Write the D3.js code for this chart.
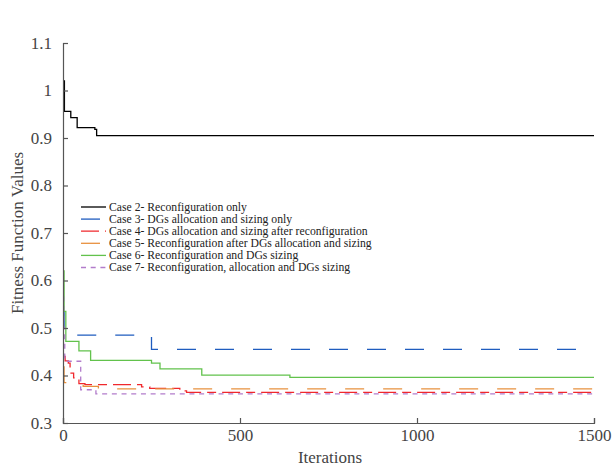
<!DOCTYPE html>
<html>
<head>
<meta charset="utf-8">
<script src="https://cdn.jsdelivr.net/npm/d3@7"></script>
<style>
  html, body { margin: 0; padding: 0; background: #fff; }
  svg { display: block; }
  text { font-family: "Liberation Serif", "DejaVu Serif", serif; }
</style>
</head>
<body>
<div id="chart"></div>
<script>
// Convergence histories: [iteration, fitness value] breakpoints (step-wise curves)
const case2 = [[0, 1.02], [4, 0.956], [22, 0.943], [40, 0.922], [90, 0.918], [95, 0.905], [1500, 0.905]];
const case3 = [[0, 0.535], [3, 0.50], [8, 0.485], [240, 0.485], [250, 0.455], [1500, 0.455]];
const case4 = [[0, 0.44], [6, 0.431], [15, 0.426], [20, 0.405], [30, 0.395], [45, 0.383], [62, 0.381], [222, 0.376], [245, 0.373], [330, 0.3675], [349, 0.3645], [1500, 0.3645]];
const case5 = [[0, 0.418], [3, 0.385], [57, 0.377], [100, 0.372], [1500, 0.372]];
const case6 = [[0, 0.62], [3, 0.535], [8, 0.472], [45, 0.452], [78, 0.432], [250, 0.426], [274, 0.414], [392, 0.401], [641, 0.396], [1500, 0.396]];
const case7 = [[0, 0.565], [2, 0.50], [5, 0.43], [50, 0.37], [93, 0.3615], [1500, 0.3605]];

const seriesNames = [
  "Case 2- Reconfiguration only",
  "Case 3- DGs allocation and sizing only",
  "Case 4- DGs allocation and sizing after reconfiguration",
  "Case 5- Reconfiguration after DGs allocation and sizing",
  "Case 6- Reconfiguration and DGs sizing",
  "Case 7- Reconfiguration, allocation and DGs sizing"
];
const seriesData = [case2, case3, case4, case5, case6, case7];
const seriesColors = ["#000000", "#1f5cbf", "#f0282d", "#e8913f", "#62c24c", "#b27ccb"];
const seriesDash = [null, "19,19", "18,6,9,6", "19,19", null, "5,4.7"];

const xTicks = [0, 500, 1000, 1500];
const yTicks = [0.3, 0.4, 0.5, 0.6, 0.7, 0.8, 0.9, 1.0, 1.1];

const width = 615, height = 468;
const svg = d3.select("#chart").append("svg")
  .attr("width", width).attr("height", height);

const x = d3.scaleLinear().domain([0, 1500]).range([63, 594]);
const y = d3.scaleLinear().domain([0.3, 1.1]).range([423, 43]);

const axisColor = "#555";
const textColor = "#444";

// Series curves
const line = d3.line()
  .x(d => x(d[0]))
  .y(d => y(d[1]))
  .curve(d3.curveStepAfter);

const plot = svg.append("g");
seriesData.forEach((data, i) => {
  plot.append("path")
    .datum(data)
    .attr("d", line)
    .attr("fill", "none")
    .attr("stroke", seriesColors[i])
    .attr("stroke-width", 1.3)
    .attr("stroke-dasharray", seriesDash[i]);
});

// Axes with inward ticks
const fmt = v => d3.format("~g")(+v.toFixed(2));
const xAxis = svg.append("g")
  .attr("transform", `translate(0,${y(0.3)})`)
  .call(d3.axisBottom(x).tickValues(xTicks).tickSize(-5).tickPadding(9).tickFormat(d3.format("d")));
const yAxis = svg.append("g")
  .attr("transform", `translate(${x(0)},0)`)
  .call(d3.axisLeft(y).tickValues(yTicks).tickSize(-5).tickPadding(11).tickFormat(fmt));

[xAxis, yAxis].forEach(g => {
  g.select(".domain").attr("stroke", axisColor).attr("stroke-width", 1.2);
  g.selectAll(".tick line").attr("stroke", axisColor).attr("stroke-width", 1.2);
  g.selectAll(".tick text")
    .attr("fill", textColor)
    .style("font-size", "17px")
    .style("font-family", "'Liberation Serif', serif");
});
xAxis.selectAll(".tick text").attr("dy", "0.55em");

// Axis titles
svg.append("text")
  .attr("x", 330).attr("y", 463)
  .attr("text-anchor", "middle")
  .attr("fill", textColor)
  .style("font-size", "17px")
  .text("Iterations");

svg.append("text")
  .attr("transform", "translate(23,233) rotate(-90)")
  .attr("text-anchor", "middle")
  .attr("fill", textColor)
  .style("font-size", "17px")
  .text("Fitness Function Values");

// Legend
const legend = svg.append("g").attr("transform", "translate(81,207)");
seriesNames.forEach((name, i) => {
  const row = legend.append("g").attr("transform", `translate(0,${i * 12.1})`);
  row.append("line")
    .attr("x1", 0).attr("x2", 25)
    .attr("y1", 0).attr("y2", 0)
    .attr("stroke", seriesColors[i])
    .attr("stroke-width", 1.3)
    .attr("stroke-dasharray", seriesDash[i]);
  row.append("text")
    .attr("x", 28).attr("y", 0)
    .attr("dy", "0.33em")
    .attr("fill", "#222")
    .style("font-size", "11.7px")
    .text(name);
});
</script>
</body>
</html>
